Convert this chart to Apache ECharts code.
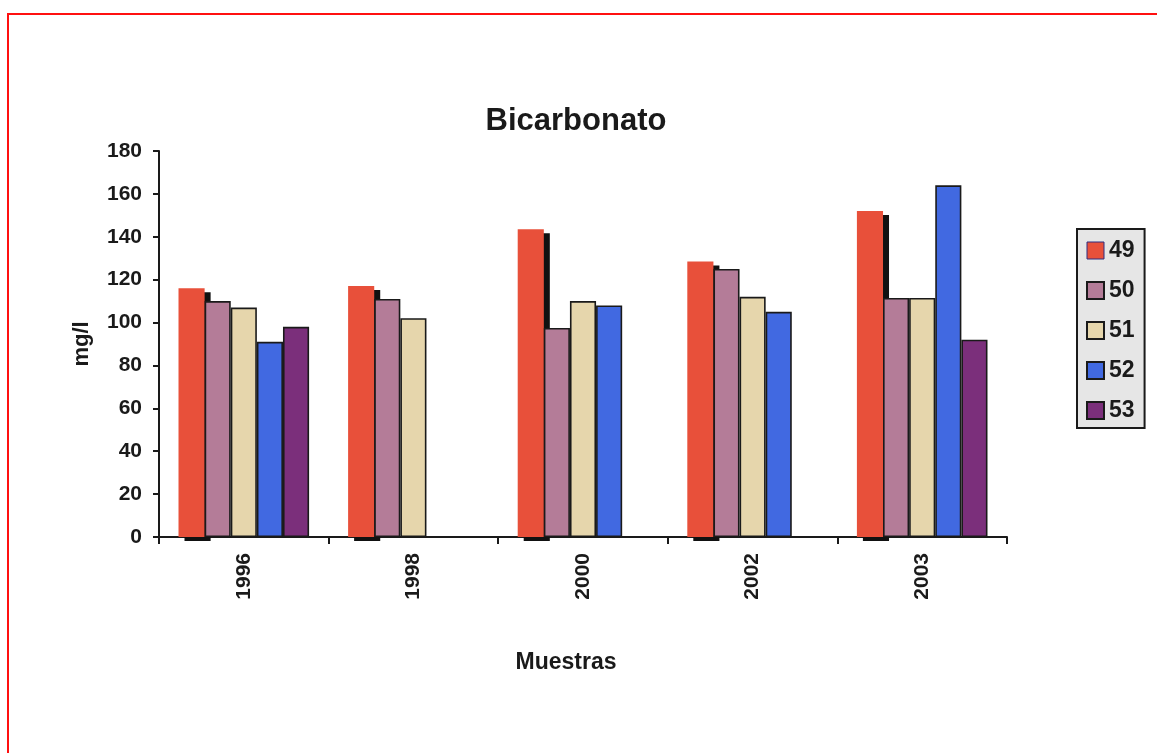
<!DOCTYPE html>
<html>
<head>
<meta charset="utf-8">
<title>Bicarbonato</title>
<script src="https://cdn.jsdelivr.net/npm/echarts@6/dist/echarts.min.js"></script>
<style>
  html, body { margin: 0; padding: 0; background: #ffffff; overflow: hidden; }
  #frame {
    position: absolute; left: 7px; top: 13px; width: 2000px; height: 2000px;
    border-left: 2px solid #ff1010; border-top: 2px solid #ff1010;
    box-sizing: border-box;
  }
  #chart { position: absolute; left: 0; top: 0; width: 1157px; height: 753px; }
</style>
</head>
<body>
<div id="frame"></div>
<div id="chart"></div>
<script>
// Sampling years (categories)
const years = ['1996', '1998', '2000', '2002', '2003'];

// Bicarbonate concentration (mg/l) per sampling point
const serieNames = ['49', '50', '51', '52', '53'];
const s49 = [116, 117, 143.5, 128.5, 152];
const s50 = [110, 111, 97.5, 125, 111.5];
const s51 = [107, 102, 110, 112, 111.5];
const s52 = [91, null, 108, 105, 164];
const s53 = [98, null, null, null, 92];

// Y axis range
const yMin = 0, yMax = 180, yStep = 20;

const FONT = '"Liberation Sans", Arial, Helvetica, sans-serif';
const INK = '#1a1a1a';

const fills = ['#e8503a', '#b47c98', '#e6d6ac', '#4169e1', '#7b2f7b'];
const values = [s49, s50, s51, s52, s53];

const series = serieNames.map((name, i) => ({
  name: name,
  type: 'bar',
  data: values[i],
  barGap: '0%',
  barCategoryGap: '23%',
  // the first series carries a hard drop shadow; the following bars overlap it
  itemStyle: i === 0 ? {
    color: fills[i],
    borderWidth: 0,
    shadowColor: '#111111',
    shadowOffsetX: 6,
    shadowOffsetY: 4,
    shadowBlur: 0
  } : {
    color: fills[i],
    borderColor: INK,
    borderWidth: 1.6
  },
  emphasis: { disabled: true }
}));

const chart = echarts.init(document.getElementById('chart'), null, { renderer: 'canvas' });
chart.setOption({
  animation: false,
  backgroundColor: 'transparent',
  title: [{
    text: 'Bicarbonato',
    left: 576,
    top: 106,
    padding: 0,
    textAlign: 'center',
    textStyle: { fontFamily: FONT, fontSize: 31, fontWeight: 'bold', color: INK }
  }, {
    // x axis caption
    text: 'Muestras',
    left: 566,
    top: 651,
    padding: 0,
    textAlign: 'center',
    textStyle: { fontFamily: FONT, fontSize: 23, fontWeight: 'bold', color: INK }
  }],
  legend: {
    data: serieNames.map((n, i) => i === 0
      ? { name: n, itemStyle: { borderColor: '#2c2c80', borderWidth: 1 } }
      : { name: n }),
    orient: 'vertical',
    left: 1077,
    top: 229,
    padding: [10, 10, 6, 9],
    itemWidth: 17,
    itemHeight: 17,
    itemGap: 17,
    icon: 'rect',
    backgroundColor: '#e6e6e6',
    borderColor: INK,
    borderWidth: 2,
    itemStyle: { shadowColor: 'transparent', shadowOffsetX: 0, shadowOffsetY: 0 },
    textStyle: { fontFamily: FONT, fontSize: 23, fontWeight: 'bold', color: INK }
  },
  grid: { left: 159, right: 150, top: 151, bottom: 216, containLabel: false },
  xAxis: {
    type: 'category',
    data: years,
    axisLine: { lineStyle: { color: INK, width: 2 } },
    axisTick: { show: true, interval: 0, length: 7, lineStyle: { color: INK, width: 2 } },
    axisLabel: {
      rotate: 90, interval: 0, margin: 16,
      fontFamily: FONT, fontSize: 21, fontWeight: 'bold', color: INK
    },
    splitLine: { show: false }
  },
  yAxis: {
    type: 'value',
    min: yMin, max: yMax, interval: yStep,
    name: 'mg/l',
    nameLocation: 'middle',
    nameRotate: 90,
    nameGap: 66,
    nameTextStyle: { fontFamily: FONT, fontSize: 22, fontWeight: 'bold', color: INK },
    axisLine: { show: true, lineStyle: { color: INK, width: 2 } },
    axisTick: { show: true, length: 6, lineStyle: { color: INK, width: 2 } },
    axisLabel: { margin: 17, fontFamily: FONT, fontSize: 21, fontWeight: 'bold', color: INK },
    splitLine: { show: false }
  },
  series: series
});
</script>
</body>
</html>
